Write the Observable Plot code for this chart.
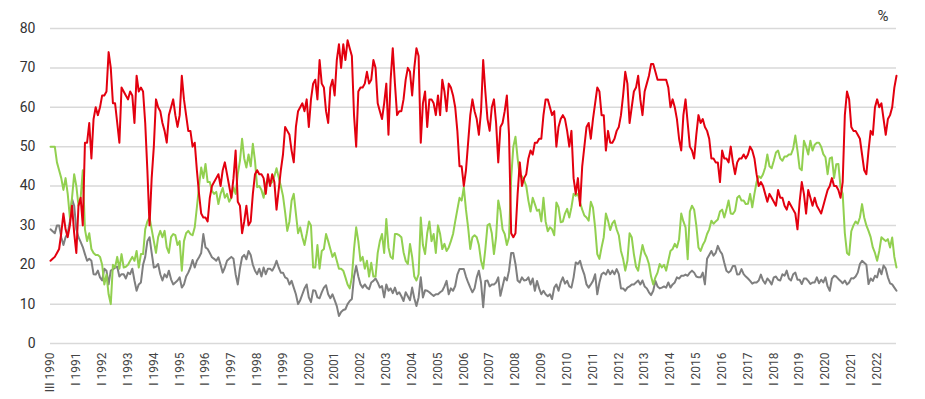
<!DOCTYPE html>
<html>
<head>
<meta charset="utf-8">
<script src="https://cdn.jsdelivr.net/npm/d3@7"></script>
<script src="https://cdn.jsdelivr.net/npm/@observablehq/plot@0.6"></script>
<style>
  html, body { margin: 0; padding: 0; background: #fff; }
  #chart { width: 925px; height: 399px; }
  svg { font-family: Roboto, "Liberation Sans", Arial, sans-serif; }
</style>
</head>
<body>
<div id="chart"></div>
<script>
// Tick labels (one every 12 observations)
const tickLabels = ["III 1990","I 1991","I 1992","I 1993","I 1994","I 1995","I 1996","I 1997","I 1998","I 1999",
  "I 2000","I 2001","I 2002","I 2003","I 2004","I 2005","I 2006","I 2007","I 2008","I 2009","I 2010",
  "I 2011","I 2012","I 2013","I 2014","I 2015","I 2016","I 2017","I 2018","I 2019","I 2020","I 2021","I 2022"];

const yTicks = [0, 10, 20, 30, 40, 50, 60, 70, 80];

// Series values (%), one per survey
const red = [
21,21.5,22,23,24,28,33,29,27,30,
35,28,23,35,37,30,51,51,56,47,57,60,
58,60,63,63,64,74,70,61,61,56,51,65,
64,63,62,64,63,56,68,64,65,64,56,44,
30,42,50,62,60,59,56,54,51,58,60,62,
58,55,58,68,62,58,54,54,50,51,44,38,
33,32,32,31,37,40,41,42,43,40,44,46,
43,40,37,42,49,36,35,28,31,35,30,31,
38,43,44,43,43,42,38,43,40,43,41,34,
39,44,48,55,54,53,49,46,55,59,60,61,
59,62,55,62,66,67,62,72,66,65,59,56,
65,67,63,72,76,70,76,72,77,75,73,58,
50,64,65,65,66,69,66,67,72,70,61,59,
57,61,66,53,67,75,66,58,59,59,62,67,
70,69,63,70,75,73,51,61,64,55,62,62,
61,58,63,58,67,64,59,66,65,63,60,54,
45,45,40,44,51,58,62,59,57,53,59,72,
64,57,54,60,62,56,46,55,56,59,63,53,
28,27,28,38,46,40,42,43,47,49,48,51,
51,52,52,58,62,62,60,58,59,50,55,57,
58,57,54,50,54,42,38,42,35,45,50,55,
56,52,57,61,65,64,58,58,49,54,51,51,
52,54,55,58,63,69,66,56,60,64,65,68,
62,58,64,66,68,71,71,69,67,67,67,67,
67,65,60,62,60,57,52,49,58,62,56,50,
49,47,53,58,56,57,55,54,52,47,47,46,
46,41,49,47,47,46,50,46,43,46,47,47,
48,47,48,50,49,47,43,40,41,40,38,36,
38,37,36,35,39,37,37,35,34,36,35,34,
33,29,36,41,38,33,39,37,35,37,35,34,
33,35,37,39,40,42,40,40,39,37,41,58,
64,62,55,54,54,53,52,48,44,43,49,54,
53,60,62,60,61,57,53,57,58,60,65,68
];

const green = [
50,50,50,46,44,42,39,42,38,32,
37,43,40,35,37,44,29,26,28,24,23,22.5,
22.5,22,20,15,17.5,12.5,10,20,19.3,22,19,22.7,
19.3,19.5,20,21,22,21,23.5,19.3,22.7,22.7,29,31,
32,29,26,23,27,28.6,27,28.6,24.4,23,27,27.8,
27.5,25,26,18.5,26,28,28.6,27.8,27.5,29.5,34.6,40,
44.7,42,45.6,41,41,38.8,38,38.5,35.4,38,39.5,37,
38,36,37,39.7,38,43,46.4,52,47,44.7,48,45,
50.7,46.4,39.7,40,39,37,40.5,42,40.5,41,42.5,44.5,
42.2,40,37.5,33.3,28.6,31,36.3,38,33,28,29.5,27,
25,27.8,31,30,19.3,19.3,25,19,23.5,24,27.8,26,
24,22,23,21,19,19,18.5,16.8,15,14,16.8,24,
29.5,26,21,22,19,21,17,20.5,17,17,23,26,
27.8,23,31.6,24.4,22,21.5,27.8,27.8,27.5,27,23.2,21,
20.2,25.3,22,17,16,17.6,32,25,22.7,28,31,26,
27.8,23,30,27.8,24,25.3,23.5,24.4,26,27.8,31,34,
37,36.3,39.7,34,29.5,24,27,27.5,27,25,21,19,
24,30,30.4,28,22.7,27,36.3,33.7,29,27.8,25,27,
42,50,52.5,47,42.5,42.5,41.4,40,36.3,33.5,37,35.4,
33.7,34,31,37,31,28.5,29.5,29,27.5,35.8,34.6,30.8,
31,33,34.2,32,34.6,38,37.5,38,35.8,34,32.5,32,
31.2,36,34.5,29.5,22.7,21.5,24.4,27,33,31.2,28.8,30.5,
31.2,29,27.5,23.5,21.5,18.5,21,28,27,22.7,19.5,18.5,
22,25,23,21.9,20.2,17,15,16.8,18,20.2,19.3,20,
18.5,21,23.5,24,25.3,24.4,26.5,33,31,29.5,21.4,33.5,
35,34,30,24.4,23.5,25,26,27.8,29,31.2,30.4,31,
31.5,33.5,34,32,34,36.3,33,32.9,33.7,37,37.5,36.3,
36.3,35.4,35.5,38,34.6,38,41,42.5,42,43,44.7,48,
45,44.5,46.4,48.5,49,47,46.4,47.5,47.5,48,48,49.5,
52.8,49,44.5,44,51.5,50,48,51.5,49,50.5,51,51,
50,48.1,47.3,43,47,47.3,42,45.5,45.6,39.7,38,28,
23,22.5,28.5,30,31,30.4,32,35.4,32,30,28.6,27,
24.4,23,21,23.5,27,26.5,26,26.5,24.4,26.9,22,19.3
];

const gray = [
29,28.5,28,30,30,27,25,27,28,31,
36.7,35,29,27,25.8,24.5,22.7,21,21.5,21,17.6,17.5,
18.5,16.8,16,19,18.5,15,18.5,18.8,19.3,19.5,17,17.6,
17.6,16.5,18,17.6,19,16,13.4,15,15.5,20,22,26,
27,23,19.3,19.5,20.2,17.6,16,17.6,16.8,18.5,16.3,15,
15.5,16,16.8,14.2,15,17,18,19.3,21.2,19.3,21,21.9,
23,27.8,24.4,24,23,21.9,21.5,21,21.9,20,18,19.3,
21,21.5,22,21.5,17.6,15,19,21.9,22.5,21.4,23.5,22.5,
20,18.5,17.6,19,17,19.3,17.6,19,19,18.5,19.5,21,
19.3,18,18,16.8,16.5,15,15.9,14.2,12.5,10,11,12.5,
14,15,11.7,10.5,13.5,13.4,11.7,11.5,13,14.2,14.8,12.5,
11.5,12.5,11,9.5,7,8,8.5,8.7,10,10.8,11.3,17,
19.7,17,15,14.2,15,14.2,13.8,15.5,15.9,16.5,15.5,14.2,
14.6,11.7,15,13.4,14,12.8,14.2,12.5,13,12,10.8,13,
12,11,14.2,11.5,9.5,11.7,16.8,11.7,13.5,13.4,13,12.5,
12.1,12.5,12.5,13,13.4,14.5,15.9,12.5,14,13.4,14.6,17.5,
18.9,18.9,18.9,17,15.5,14.2,13,14,16.8,18.5,15.5,9.2,
15.9,16,14.5,15,15,15.5,16.8,12.1,14.5,16.8,16,18.5,
23,23,20.2,16,15.5,16.8,16,16.1,16.8,15,16.5,13.4,
15.9,14,12.5,13.4,12.5,12,12.5,11.3,14.2,15,13.4,15.5,
16.8,15.2,15.9,14.5,14.2,16.8,20.6,20.2,21,19,17.5,15,
14.2,15,15.9,17.6,12.5,15.5,17.6,18,17.5,18.7,17.6,18.5,
17.6,18.9,17.6,14,14,13.4,14.2,14.5,15,15,15.5,16,
15,16,14.5,14,13,12.3,13.4,15.9,14.5,14,14.2,14.5,
14.2,15.5,14.2,15,15.5,16.8,16.5,17.2,17.2,17.5,17.2,18,
18.5,18,17,16.8,16.8,18,15,21.5,22.5,23.5,22.3,23,
24.8,23.5,22.7,20.5,18.5,18,18.5,19.7,19.7,17.5,17.6,18.9,
17.6,17,16.5,15.9,15.2,15.5,15.5,16,17.5,16,15.2,16.5,
15.9,15,16.8,17,16.2,16,17.6,17.2,18.5,16.5,16,17.6,
18,16.2,16.2,15.1,16.5,16.5,15.9,15.1,15.5,15.5,16.8,15.3,
16.2,15.5,16.8,14.5,13.4,16.5,17.2,17,16.4,15.9,15.3,16,
15,15.5,16.6,16.5,17,18,20.2,21,20.5,20,15.1,16.5,
15.9,17.2,16.8,19,17.6,19.8,19,16.8,15.3,15,14.2,13.4
];

const seriesColors = { gray: "#7f7f7f", green: "#92d050", red: "#e3000f" };

const toRows = (arr) => arr.map((v, i) => ({ i, v }));
const tickIdx = tickLabels.map((_, k) => k * 12);
const n = red.length;

const chart = Plot.plot({
  width: 925,
  height: 399,
  marginLeft: 50,
  marginRight: 29,
  marginTop: 28,
  marginBottom: 56,
  style: { fontFamily: "Roboto, 'Liberation Sans', Arial, sans-serif", background: "#fff" },
  x: { type: "linear", domain: [0, n - 1] },
  y: { domain: [0, 80] },
  marks: [
    Plot.ruleY(yTicks, { stroke: "#d9d9d9", strokeWidth: 1.5 }),
    Plot.axisY({ ticks: yTicks, tickSize: 0, tickPadding: 15, fontSize: 14, color: "#333", label: null }),
    Plot.axisX({ ticks: tickIdx, tickSize: 0, tickPadding: 9, tickRotate: -90, fontSize: 12,
                 color: "#444", label: null, tickFormat: (d) => tickLabels[Math.round(d / 12)] }),
    Plot.line(toRows(gray), { x: "i", y: "v", stroke: seriesColors.gray, strokeWidth: 2, strokeLinejoin: "round" }),
    Plot.line(toRows(green), { x: "i", y: "v", stroke: seriesColors.green, strokeWidth: 2, strokeLinejoin: "round" }),
    Plot.line(toRows(red), { x: "i", y: "v", stroke: seriesColors.red, strokeWidth: 2, strokeLinejoin: "round" }),
    Plot.text(["%"], { frameAnchor: "top-right", dx: -8, dy: -18, fontSize: 15, fill: "#333" })
  ]
});
document.getElementById("chart").appendChild(chart);
</script>
</body>
</html>
